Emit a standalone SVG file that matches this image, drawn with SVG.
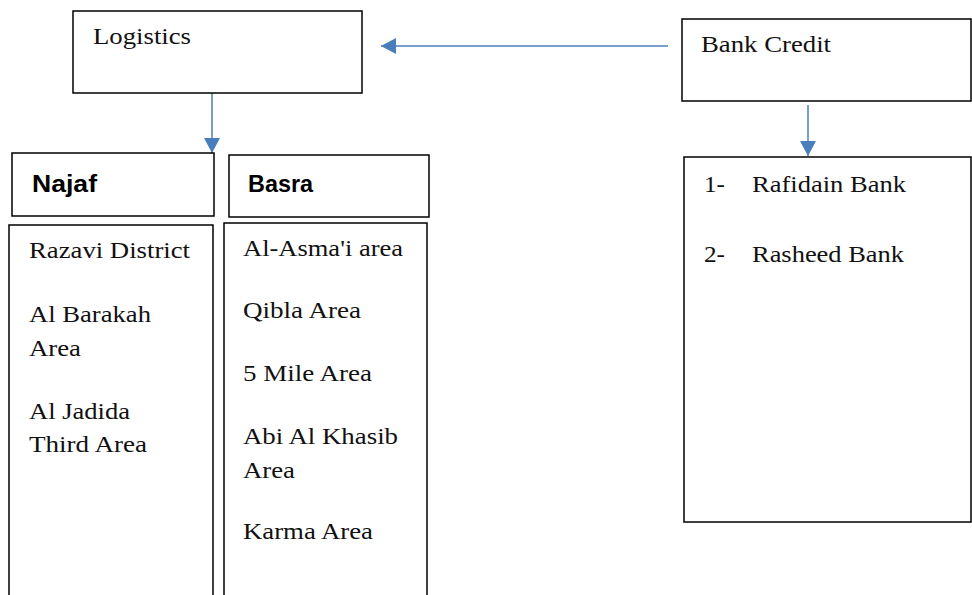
<svg xmlns="http://www.w3.org/2000/svg" width="972" height="595" viewBox="0 0 972 595">
<style>
.box{fill:#fff;stroke:#000;stroke-width:1.5}
.t{font-family:"Liberation Serif","Times New Roman",serif;font-size:24px;fill:#111}
.h{font-family:"Liberation Sans",Arial,sans-serif;font-size:24px;font-weight:bold;fill:#000}
.c{stroke:#4A7EBB;stroke-width:1.5;fill:none}
</style>
<defs>
<marker id="ah" markerWidth="16" markerHeight="16" refX="15" refY="8" orient="auto" markerUnits="userSpaceOnUse">
<path d="M0,0 L15,8 L0,16 Z" fill="#4A7EBB"/>
</marker>
</defs>
<rect width="972" height="595" fill="#fff"/>
<g id="connectors">
<line class="c" x1="668" y1="46" x2="381" y2="46" marker-end="url(#ah)"/>
<line class="c" x1="212" y1="87" x2="212" y2="153" marker-end="url(#ah)"/>
<line class="c" x1="808" y1="105" x2="808" y2="156" marker-end="url(#ah)"/>
</g>
<g id="logistics">
<rect class="box" x="73" y="11" width="289" height="82"/>
<text class="t" x="93" y="44" textLength="98" lengthAdjust="spacingAndGlyphs">Logistics</text>
</g>
<g id="bank-credit">
<rect class="box" x="682" y="19" width="289" height="82"/>
<text class="t" x="701" y="52" textLength="130" lengthAdjust="spacingAndGlyphs">Bank Credit</text>
</g>
<g id="najaf">
<rect class="box" x="12" y="153" width="202" height="63"/>
<text class="h" x="32" y="192" textLength="65" lengthAdjust="spacingAndGlyphs">Najaf</text>
</g>
<g id="basra">
<rect class="box" x="229" y="155" width="200" height="62"/>
<text class="h" x="248" y="192" textLength="65" lengthAdjust="spacingAndGlyphs">Basra</text>
</g>
<g id="najaf-list">
<rect class="box" x="9" y="225" width="204" height="380"/>
<text class="t" x="29" y="258" textLength="161" lengthAdjust="spacingAndGlyphs">Razavi District</text>
<text class="t" x="29" y="322" textLength="122" lengthAdjust="spacingAndGlyphs">Al Barakah</text>
<text class="t" x="29" y="356" textLength="52" lengthAdjust="spacingAndGlyphs">Area</text>
<text class="t" x="29" y="419" textLength="101" lengthAdjust="spacingAndGlyphs">Al Jadida</text>
<text class="t" x="29" y="452" textLength="118" lengthAdjust="spacingAndGlyphs">Third Area</text>
</g>
<g id="basra-list">
<rect class="box" x="224" y="223" width="203" height="380"/>
<text class="t" x="243" y="256" textLength="160" lengthAdjust="spacingAndGlyphs">Al-Asma'i area</text>
<text class="t" x="243" y="318" textLength="118" lengthAdjust="spacingAndGlyphs">Qibla Area</text>
<text class="t" x="243" y="381" textLength="129" lengthAdjust="spacingAndGlyphs">5 Mile Area</text>
<text class="t" x="243" y="444" textLength="155" lengthAdjust="spacingAndGlyphs">Abi Al Khasib</text>
<text class="t" x="243" y="478" textLength="52" lengthAdjust="spacingAndGlyphs">Area</text>
<text class="t" x="243" y="539" textLength="130" lengthAdjust="spacingAndGlyphs">Karma Area</text>
</g>
<g id="bank-list">
<rect class="box" x="684" y="157" width="287" height="365"/>
<text class="t" x="704" y="192" textLength="21" lengthAdjust="spacingAndGlyphs">1-</text>
<text class="t" x="752" y="192" textLength="154" lengthAdjust="spacingAndGlyphs">Rafidain Bank</text>
<text class="t" x="704" y="262" textLength="21" lengthAdjust="spacingAndGlyphs">2-</text>
<text class="t" x="752" y="262" textLength="152" lengthAdjust="spacingAndGlyphs">Rasheed Bank</text>
</g>
</svg>
